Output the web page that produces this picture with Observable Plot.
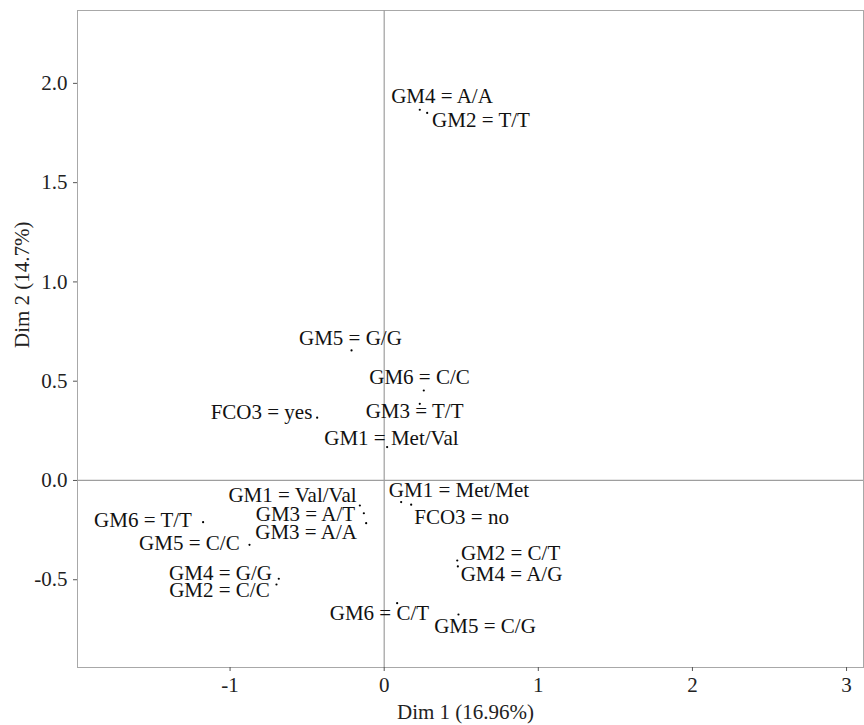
<!DOCTYPE html>
<html><head><meta charset="utf-8">
<script src="https://cdn.jsdelivr.net/npm/d3@7"></script>
<script src="https://cdn.jsdelivr.net/npm/@observablehq/plot@0.6"></script>
<style>html,body{margin:0;padding:0;background:#fff} #chart svg{display:block}</style>
</head><body><div id="chart"></div>
<script>
// Category labels
const categories = [
  "GM4 = A/A", "GM2 = T/T", "GM5 = G/G", "GM6 = C/C", "GM3 = T/T",
  "FCO3 = yes", "GM1 = Met/Val", "GM1 = Val/Val", "GM3 = A/T", "GM3 = A/A",
  "GM6 = T/T", "GM5 = C/C", "GM4 = G/G", "GM2 = C/C", "GM1 = Met/Met",
  "FCO3 = no", "GM2 = C/T", "GM4 = A/G", "GM6 = C/T", "GM5 = C/G"
];
// Point coordinates (Dim 1, Dim 2)
const dim1 = [0.231, 0.279, -0.212, 0.257, 0.231, -0.435, 0.019, -0.158, -0.132, -0.117,
              -1.175, -0.874, -0.684, -0.699, 0.110, 0.175, 0.474, 0.478, 0.084, 0.482];
const dim2 = [1.867, 1.851, 0.655, 0.453, 0.386, 0.316, 0.168, -0.126, -0.165, -0.215,
              -0.210, -0.324, -0.495, -0.524, -0.109, -0.122, -0.403, -0.433, -0.618, -0.675];
// Repelled label anchor positions (data units)
const labelDim1 = [0.375, 0.628, -0.219, 0.229, 0.197, -0.796, 0.047, -0.595, -0.511, -0.507,
                   -1.565, -1.264, -1.062, -1.069, 0.485, 0.502, 0.820, 0.826, -0.031, 0.654];
const labelDim2 = [1.936, 1.813, 0.718, 0.519, 0.350, 0.342, 0.214, -0.0755, -0.169, -0.259,
                   -0.201, -0.315, -0.468, -0.554, -0.050, -0.186, -0.368, -0.471, -0.670, -0.735];
// Axes
const xTicks = [-1, 0, 1, 2, 3];
const yTicks = [-0.5, 0.0, 0.5, 1.0, 1.5, 2.0];
const xDomain = [-1.99, 3.11];
const yDomain = [-0.942, 2.367];
const xTitle = "Dim 1 (16.96%)";
const yTitle = "Dim 2 (14.7%)";

const rows = categories.map((c, i) => ({label: c, x: dim1[i], y: dim2[i], lx: labelDim1[i], ly: labelDim2[i]}));
const hy = s => s.replace(/\u2212/g, "-");

const chart = Plot.plot({
  width: 864, height: 725,
  marginLeft: 77, marginRight: 1, marginTop: 10, marginBottom: 58,
  style: {fontFamily: "'Liberation Serif', serif", fontSize: "21px", color: "#222", background: "#fff"},
  x: {domain: xDomain},
  y: {domain: yDomain},
  marks: [
    Plot.frame({stroke: "#a8a8a8"}),
    Plot.ruleX([0], {stroke: "#9e9e9e", strokeWidth: 1.2}),
    Plot.ruleY([0], {stroke: "#9e9e9e", strokeWidth: 1.2}),
    Plot.axisX({ticks: xTicks, tickFormat: d => hy(d3.format("d")(d)), tickSize: 4, tickPadding: 6, line: true, stroke: "#555", fill: "#222",
      label: null, fontSize: 21}),
    Plot.axisY({ticks: yTicks, tickFormat: d => hy(d3.format(".1f")(d)), tickSize: 4, tickPadding: 6, line: true, stroke: "#555", fill: "#222",
      label: null, fontSize: 21}),
    Plot.text([xTitle], {text: d => d, frameAnchor: "bottom", dx: -5, dy: 45, lineAnchor: "middle", fill: "#222", fontSize: 21}),
    Plot.text([yTitle], {text: d => d, frameAnchor: "left", dx: -55, dy: 9, rotate: -90, lineAnchor: "middle", fill: "#222", fontSize: 21}),
    Plot.dot(rows, {x: "x", y: "y", r: 1.1, fill: "#000", stroke: null}),
    Plot.text(rows, {x: "lx", y: "ly", text: "label", fill: "#111", fontSize: 21, textAnchor: "middle", lineAnchor: "middle"})
  ]
});
document.getElementById("chart").appendChild(chart);
</script>
</body></html>
